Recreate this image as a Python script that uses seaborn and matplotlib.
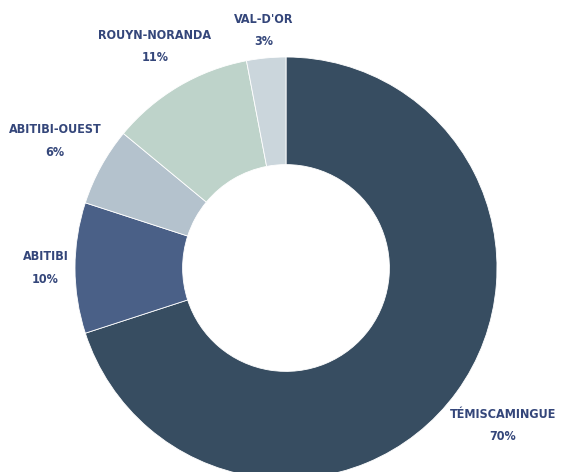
import matplotlib
matplotlib.use("Agg")
import matplotlib.pyplot as plt
import numpy as np
import seaborn as sns

# Data
regions = ["TÉMISCAMINGUE", "ABITIBI", "ABITIBI-OUEST", "ROUYN-NORANDA", "VAL-D'OR"]
shares = [70, 10, 6, 11, 3]
colors = ["#374d61", "#4a6087", "#b4c2cd", "#bed3ca", "#cbd6dc"]

sns.set_theme(style="white")
plt.rcParams["font.family"] = ["DejaVu Sans"]

fig = plt.figure(figsize=(5.63, 4.72), dpi=100)
ax = fig.add_axes([75 / 563, -7 / 472, 422 / 563, 422 / 472])

wedges, _ = ax.pie(shares, colors=colors, startangle=90, counterclock=False,
                   radius=1, wedgeprops=dict(width=0.51, edgecolor="white", linewidth=0.6))

# distance of each label from the centre, in radii
label_dist = [1.27, 1.14, 1.25, 1.22, 1.13]
for w, name, pct, d in zip(wedges, regions, shares, label_dist):
    ang = np.deg2rad((w.theta1 + w.theta2) / 2)
    x, y = d * np.cos(ang), d * np.sin(ang)
    ax.text(x, y, f"{name}\n{pct}%", ha="center", va="center", color="#34467a",
            fontsize=9, fontweight="bold", fontstretch="condensed", linespacing=1.95)

ax.set_xlim(-1, 1)
ax.set_ylim(-1, 1)
ax.set_aspect("equal")
ax.axis("off")

fig.savefig("out.png", dpi=100)
